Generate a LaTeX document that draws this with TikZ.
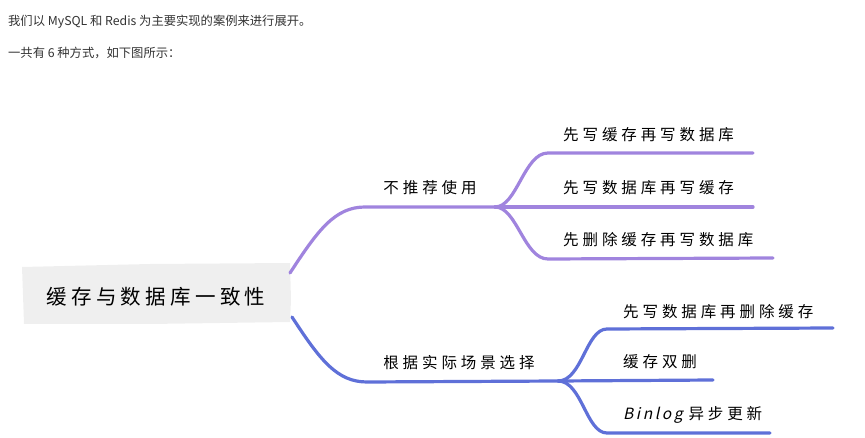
\documentclass[tikz,border=0pt]{standalone}
\usepackage{fontspec}
\setmainfont{Noto Sans CJK SC}
\newfontfamily\hand{Noto Sans CJK SC}
\newfontfamily\handsl[FakeSlant=0.22]{Noto Sans CJK SC}
\definecolor{mmpurple}{HTML}{A084DE}
\definecolor{mmblue}{HTML}{5F70D8}
\definecolor{mmgray}{HTML}{EFEFEF}
\definecolor{txtgray}{HTML}{333333}
% spread characters evenly
\newdimen\lsgap \lsgap=3.9pt
\def\ls#1{\lsfirst#1\relax}
\def\lsfirst#1{#1\lsloop}
\def\lsloop#1{\ifx\relax#1\else\hskip\lsgap#1\expandafter\lsloop\fi}

\begin{document}
\begin{tikzpicture}[x=1pt,y=-1pt,
  line/.style={line width=3.2pt,line cap=round},
  up/.style={line,draw=mmpurple},
  down/.style={line,draw=mmblue},
  intro/.style={anchor=west,inner sep=0pt,text=txtgray,font=\fontsize{12.3}{15}\selectfont},
  topic/.style={inner sep=0pt,text=black,font=\hand\fontsize{15.5}{18}\selectfont},
  leaf/.style={topic,anchor=west}]
  \useasboundingbox (0,0) rectangle (865,438);
  % intro text
  \node[intro] (l1) at (8,22) {我们以 MySQL 和 Redis 为主要实现的案例来进行展开。};
  \node[intro] (l2) at (8,53) {一共有 6 种方式，如下图所示：};
  % root
  \fill[mmgray] (22,267) -- (150,264) -- (290,263) -- (291,300) -- (290,322)
    -- (150,324) -- (24,324) -- (23,295) -- cycle;
  \node[topic,font=\hand\fontsize{20.5}{24}\selectfont] (root) at (156,297)
    {\lsgap=4.3pt\ls{缓存与数据库一致性}};
  % branch points
  \coordinate (ra) at (290,273);
  \coordinate (rb) at (292,317);
  \coordinate (a0) at (365,207);
  \coordinate (a1) at (495,207);
  \coordinate (b0) at (367,382);
  \coordinate (b1) at (558,381);
  % not recommended
  \draw[up] (ra) .. controls (318,230) and (335,207) .. (a0) -- (a1);
  \node[topic] (na) at (430,188) {\ls{不推荐使用}};
  \draw[up] (a1) .. controls (517,207) and (524,153) .. (548,153) -- (753,153);
  \draw[up] (a1) -- (753,207);
  \draw[up] (a1) .. controls (517,207) and (524,259) .. (548,259) -- (773,258);
  \node[leaf] (a11) at (563,135) {\ls{先写缓存再写数据库}};
  \node[leaf] (a12) at (563,188) {\ls{先写数据库再写缓存}};
  \node[leaf] (a13) at (563,240) {\ls{先删除缓存再写数据库}};
  % choose by scenario
  \draw[down] (rb) .. controls (320,360) and (337,382) .. (b0) -- (b1);
  \node[topic] (nb) at (459,363) {\ls{根据实际场景选择}};
  \draw[down] (b1) .. controls (582,381) and (586,329) .. (607,329) -- (833,328);
  \draw[down] (b1) -- (713,380);
  \draw[down] (b1) .. controls (582,381) and (586,433) .. (607,433) -- (770,433);
  \node[leaf] (b11) at (623,312) {\ls{先写数据库再删除缓存}};
  \node[leaf] (b12) at (623,362) {\ls{缓存双删}};
  \node[leaf] (b13) at (623,415) {{\handsl B\,i\,n\,l\,o\,g}\hskip6pt\ls{异步更新}};
\end{tikzpicture}
\end{document}
